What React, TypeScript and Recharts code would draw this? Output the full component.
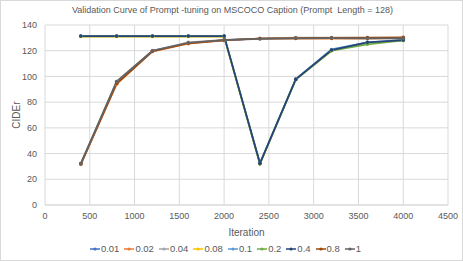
import { LineChart, Line, XAxis, YAxis, CartesianGrid, Legend } from 'recharts';

const iterations = [400, 800, 1200, 1600, 2000, 2400, 2800, 3200, 3600, 4000];

const lr001 = [32, 95, 120, 126, 128, 129.5, 130, 130, 130, 129.5];
const lr002 = [31.5, 94, 119.5, 125.5, 128, 129.5, 129.5, 129.5, 129.5, 130];
const lr004 = [32, 96, 120, 126.5, 128.5, 129.5, 130.2, 130.2, 130, 129.5];
const lr008 = [131, 131, 131, 131, 131, 32, 98, 120, 126, 128];
const lr01 = [131.4, 131.4, 131.4, 131.4, 131.4, 32.5, 98, 121, 126.5, 128.3];
const lr02 = [131.2, 131.2, 131.2, 131.2, 131.2, 32, 97.5, 120, 125, 128];
const lr04 = [131.4, 131.4, 131.4, 131.4, 131.4, 32.4, 97.7, 120.5, 126.5, 128.3];
const lr08 = [32, 94.5, 119.5, 125.8, 128.2, 129.5, 129.8, 130, 130.2, 130.4];
const lr1 = [32.2, 96, 120, 126.2, 128.3, 129.2, 129.6, 129.8, 129.6, 129.6];

const seriesNames = ['0.01', '0.02', '0.04', '0.08', '0.1', '0.2', '0.4', '0.8', '1'];
const seriesValues = [lr001, lr002, lr004, lr008, lr01, lr02, lr04, lr08, lr1];
const seriesColors = ['#4472C4', '#ED7D31', '#A5A5A5', '#FFC000', '#5B9BD5', '#70AD47', '#264478', '#9E480E', '#636363'];

const xTicks = [0, 500, 1000, 1500, 2000, 2500, 3000, 3500, 4000, 4500];
const yTicks = [0, 20, 40, 60, 80, 100, 120, 140];

const data = iterations.map((it, i) => {
  const row: Record<string, number> = { iteration: it };
  seriesNames.forEach((name, s) => {
    row[name] = seriesValues[s][i];
  });
  return row;
});

const font = '"Liberation Sans", Arial, sans-serif';
const textColor = '#595959';

// Excel-like legend: short line with a dot, then the label
const LegendContent = () => (
  <div style={{ display: 'flex', justifyContent: 'center', alignItems: 'center', fontFamily: font, fontSize: 9.5, color: textColor, paddingTop: 4, paddingLeft: 3 }}>
    {seriesNames.map((name, i) => (
      <div key={name} style={{ display: 'flex', alignItems: 'center', marginRight: i === seriesNames.length - 1 ? 0 : 5 }}>
        <svg width={10} height={6} style={{ marginRight: 1 }}>
          <line x1={0} y1={3} x2={10} y2={3} stroke={seriesColors[i]} strokeWidth={1.5} />
          <circle cx={5} cy={3} r={1.6} fill={seriesColors[i]} />
        </svg>
        <span>{name}</span>
      </div>
    ))}
  </div>
);

export default function App() {
  return (
    <div style={{ position: 'absolute', left: 0, top: 0, width: 463, height: 261, background: '#fff', boxSizing: 'border-box', border: '1px solid #d9d9d9' }}>
      <div style={{ position: 'absolute', left: 0, top: 4, width: 463, textAlign: 'center', fontFamily: font, fontSize: 9, color: textColor, whiteSpace: 'pre' }}>
        {'Validation Curve of Prompt -tuning on MSCOCO Caption (Prompt  Length = 128)'}
      </div>
      <div style={{ position: 'absolute', left: -1, top: -1 }}>
        <LineChart width={463} height={261} data={data} margin={{ top: 25, right: 15, left: 0, bottom: 0 }}>
          <CartesianGrid stroke="#d9d9d9" strokeWidth={1} />
          <XAxis
            dataKey="iteration"
            type="number"
            domain={[0, 4500]}
            ticks={xTicks}
            tickLine={false}
            axisLine={{ stroke: '#d9d9d9' }}
            tickSize={0}
            tickMargin={8}
            height={34}
            tick={{ fontSize: 9, fill: textColor, fontFamily: font }}
            label={{ value: 'Iteration', position: 'insideBottom', offset: 3, fontSize: 10, fill: textColor, fontFamily: font }}
          />
          <YAxis
            type="number"
            domain={[0, 140]}
            ticks={yTicks}
            tickLine={false}
            axisLine={false}
            tickSize={0}
            tickMargin={8}
            width={45}
            tick={{ fontSize: 9, fill: textColor, fontFamily: font }}
            label={{ value: 'CIDEr', angle: -90, position: 'insideLeft', offset: 16, fontSize: 10, fill: textColor, fontFamily: font, style: { textAnchor: 'middle' } }}
          />
          <Legend verticalAlign="bottom" height={22} content={<LegendContent />} />
          {seriesNames.map((name, i) => (
            <Line
              key={name}
              dataKey={name}
              type="linear"
              stroke={seriesColors[i]}
              strokeWidth={1.75}
              dot={{ r: 1.8, fill: seriesColors[i], stroke: seriesColors[i], strokeWidth: 0 }}
              activeDot={false}
              isAnimationActive={false}
            />
          ))}
        </LineChart>
      </div>
    </div>
  );
}
